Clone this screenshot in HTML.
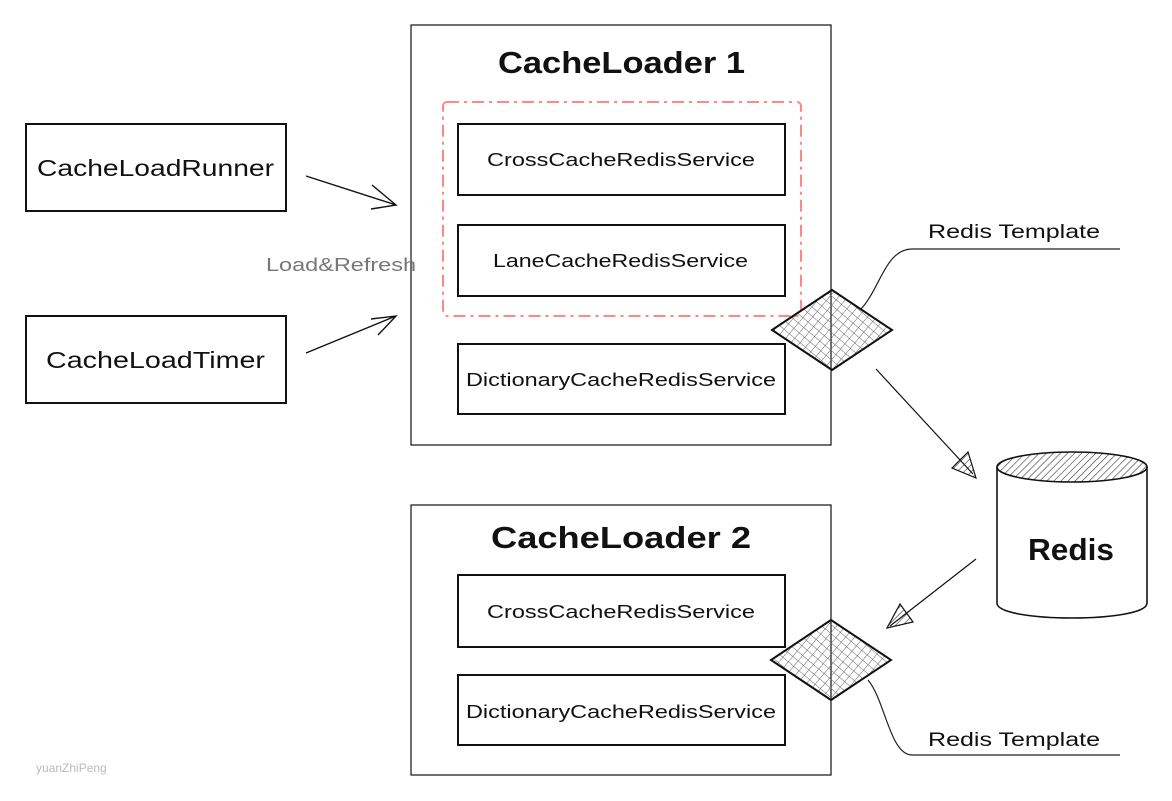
<!DOCTYPE html>
<html><head><meta charset="utf-8"><style>
html,body{margin:0;padding:0;background:#fff;}
svg{display:block;font-family:"Liberation Sans",sans-serif;}
</style></head><body>
<svg width="1172" height="801" viewBox="0 0 1172 801">
<defs>
<pattern id="grid" width="7" height="7" patternUnits="userSpaceOnUse" patternTransform="rotate(40)">
<path d="M0 0H7M0 0V7" stroke="#666" stroke-width="1" fill="none"/>
</pattern>
<pattern id="hatch" width="5" height="5" patternUnits="userSpaceOnUse" patternTransform="rotate(45)">
<path d="M0 0V5" stroke="#333" stroke-width="1.2"/>
</pattern>
</defs>
<rect width="1172" height="801" fill="#fff"/>
<rect x="411" y="25" width="420" height="420" fill="none" stroke="#111" stroke-width="1.2"/>
<text x="498" y="73" font-size="31" font-weight="bold" textLength="247" lengthAdjust="spacingAndGlyphs" fill="#111">CacheLoader 1</text>
<rect x="443" y="102" width="358" height="214" rx="4" fill="none" stroke="#ff8787" stroke-width="2" stroke-dasharray="12 5 3 5"/>
<rect x="458" y="124" width="327" height="71" fill="none" stroke="#111" stroke-width="2"/>
<text x="487" y="166" font-size="18" textLength="268" lengthAdjust="spacingAndGlyphs" fill="#111">CrossCacheRedisService</text>
<rect x="458" y="225" width="327" height="71" fill="none" stroke="#111" stroke-width="2"/>
<text x="493" y="267" font-size="18" textLength="255" lengthAdjust="spacingAndGlyphs" fill="#111">LaneCacheRedisService</text>
<rect x="458" y="344" width="327" height="70" fill="none" stroke="#111" stroke-width="2"/>
<text x="466" y="386" font-size="18" textLength="310" lengthAdjust="spacingAndGlyphs" fill="#111">DictionaryCacheRedisService</text>
<rect x="26" y="124" width="260" height="87" fill="none" stroke="#111" stroke-width="2"/>
<text x="37" y="176" font-size="23" textLength="237" lengthAdjust="spacingAndGlyphs" fill="#111">CacheLoadRunner</text>
<rect x="26" y="316" width="260" height="87" fill="none" stroke="#111" stroke-width="2"/>
<text x="46" y="368" font-size="23" textLength="219" lengthAdjust="spacingAndGlyphs" fill="#111">CacheLoadTimer</text>
<path d="M306 176L396 205M372 185L396 205L371 209M306 353L396 316M371 319L396 316L378 335" fill="none" stroke="#111" stroke-width="1.4"/>
<text x="266" y="271" font-size="18" textLength="150" lengthAdjust="spacingAndGlyphs" fill="#777">Load&amp;Refresh</text>
<path d="M860 310C880 290 885 249 912 249H1120" fill="none" stroke="#222" stroke-width="1.2"/>
<text x="928" y="238" font-size="19" textLength="172" lengthAdjust="spacingAndGlyphs" fill="#111">Redis Template</text>
<polygon points="832,290 892,330 832,370 772,330" fill="url(#grid)" stroke="#111" stroke-width="2"/>
<path d="M876 369L973 474" stroke="#111" stroke-width="1.2"/>
<polygon points="976,478 968,452 952,468" fill="url(#hatch)" stroke="#111" stroke-width="1.2"/>
<path d="M997 467V603C997 623 1147 623 1147 603V467" fill="none" stroke="#111" stroke-width="1.6"/>
<ellipse cx="1072" cy="467" rx="75" ry="15" fill="url(#hatch)" stroke="#111" stroke-width="1.6"/>
<text x="1028" y="560" font-size="31" font-weight="bold" textLength="86" lengthAdjust="spacingAndGlyphs" fill="#111">Redis</text>
<rect x="411" y="505" width="420" height="270" fill="none" stroke="#111" stroke-width="1.2"/>
<text x="491" y="548" font-size="31" font-weight="bold" textLength="260" lengthAdjust="spacingAndGlyphs" fill="#111">CacheLoader 2</text>
<rect x="458" y="575" width="327" height="72" fill="none" stroke="#111" stroke-width="2"/>
<text x="487" y="618" font-size="18" textLength="268" lengthAdjust="spacingAndGlyphs" fill="#111">CrossCacheRedisService</text>
<rect x="458" y="675" width="327" height="70" fill="none" stroke="#111" stroke-width="2"/>
<text x="466" y="718" font-size="18" textLength="310" lengthAdjust="spacingAndGlyphs" fill="#111">DictionaryCacheRedisService</text>
<path d="M976 559L890 626" stroke="#111" stroke-width="1.2"/>
<polygon points="887,628 913,622 900,604" fill="url(#hatch)" stroke="#111" stroke-width="1.2"/>
<path d="M868 680C885 700 890 755 912 755H1120" fill="none" stroke="#222" stroke-width="1.2"/>
<text x="928" y="746" font-size="19" textLength="172" lengthAdjust="spacingAndGlyphs" fill="#111">Redis Template</text>
<polygon points="831,620 891,660 831,700 771,660" fill="url(#grid)" stroke="#111" stroke-width="2"/>
<text x="36" y="772" font-size="12" fill="#bbb">yuanZhiPeng</text>
</svg>
</body></html>
